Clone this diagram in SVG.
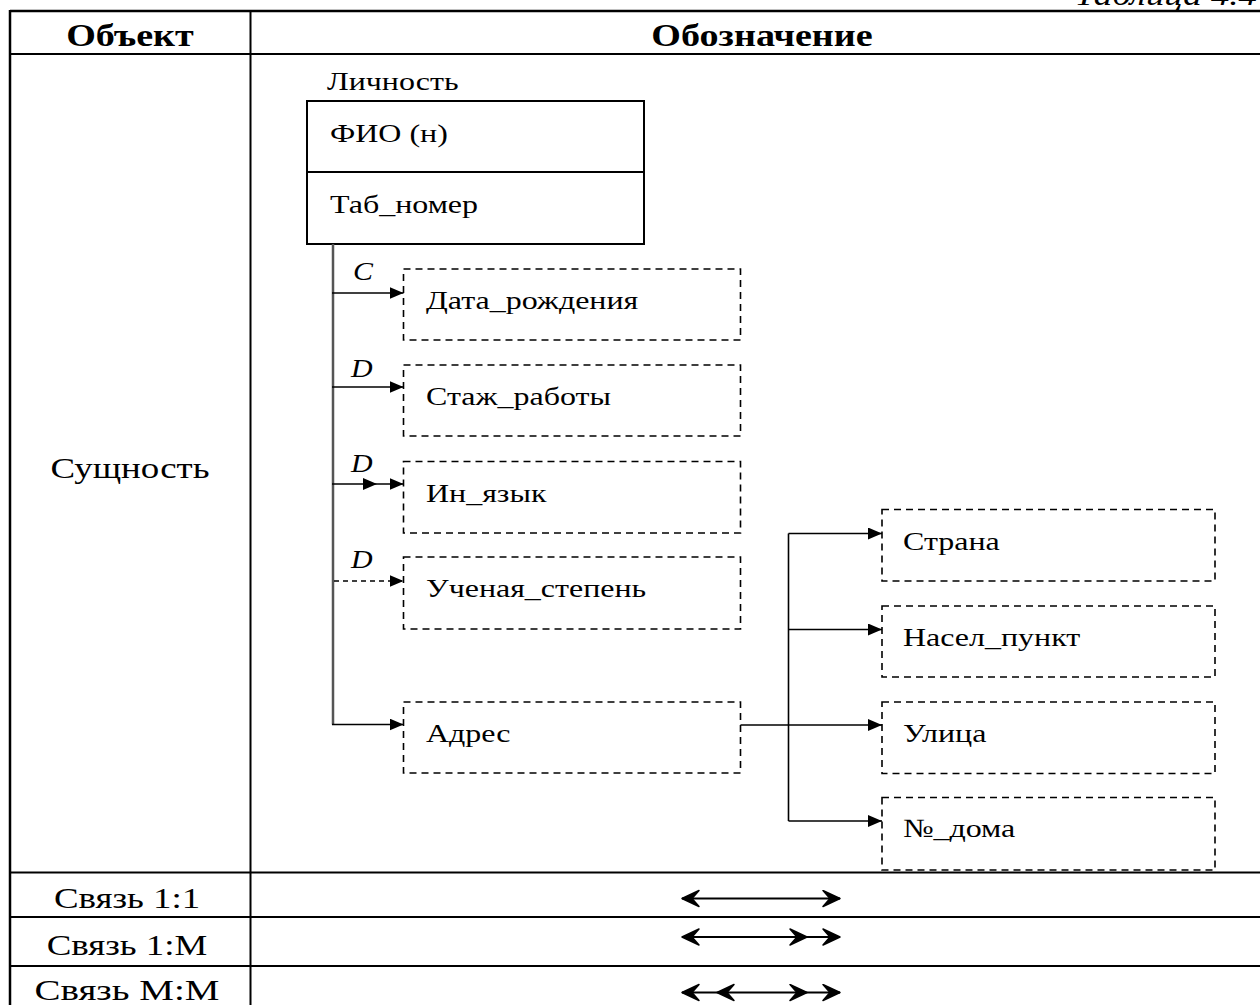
<svg xmlns="http://www.w3.org/2000/svg" width="1260" height="1005" viewBox="0 0 1260 1005">
  <style>
    .t { font-family: "Liberation Serif", "DejaVu Serif", serif; fill: #000; }
    .hdr { font-size: 31px; font-weight: bold; }
    .cell { font-size: 30px; }
    .lbl { font-size: 26px; }
    .tag { font-size: 26px; font-style: italic; }
    .grid { stroke: #000; stroke-width: 2; fill: none; }
    .entity { fill: #fff; stroke: #000; stroke-width: 2; }
    .attr { fill: #fff; stroke: #000; stroke-width: 1.6; stroke-dasharray: 7 5; }
    .trunk { stroke: #555; stroke-width: 2.5; fill: none; }
    .link { stroke: #000; stroke-width: 1.6; fill: none; }
    .rel { stroke: #000; stroke-width: 2.2; fill: none; }
  </style>
  <defs>
    <marker id="tri" markerUnits="userSpaceOnUse" markerWidth="15" markerHeight="13" refX="14" refY="6" orient="auto">
      <path d="M0,0 L14,6 L0,12 Z" fill="#000"/>
    </marker>
    <marker id="stealth" markerUnits="userSpaceOnUse" markerWidth="22" markerHeight="20" refX="19" refY="9" orient="auto">
      <path d="M19,9 L2,1 L9,9 L2,17 Z" fill="#000" stroke="#000" stroke-width="1.5" stroke-linejoin="round"/>
    </marker>
  </defs>

  <rect width="1260" height="1005" fill="#fff"/>

  <!-- table caption, cut by the page edge -->
  <g transform="translate(1257 5) scale(1.23 1)">
    <text class="t tag" text-anchor="end" style="font-size:30px">Таблица 4.4</text>
  </g>

  <!-- table grid -->
  <g id="table">
    <line class="grid" x1="10" y1="11" x2="1260" y2="11" style="stroke-width:2.5"/>
    <line class="grid" x1="10" y1="54" x2="1260" y2="54"/>
    <line class="grid" x1="10" y1="872.5" x2="1260" y2="872.5"/>
    <line class="grid" x1="10" y1="917" x2="1260" y2="917"/>
    <line class="grid" x1="10" y1="966" x2="1260" y2="966"/>
    <line class="grid" x1="10" y1="10" x2="10" y2="1005" style="stroke-width:2.5"/>
    <line class="grid" x1="250.5" y1="11" x2="250.5" y2="1005"/>
  </g>

  <!-- table text -->
  <g id="headers">
    <g transform="translate(130 46) scale(1.23 1)"><text class="t hdr" text-anchor="middle">Объект</text></g>
    <g transform="translate(762 46) scale(1.23 1)"><text class="t hdr" text-anchor="middle">Обозначение</text></g>
    <g transform="translate(130 478) scale(1.23 1)"><text class="t cell" text-anchor="middle">Сущность</text></g>
    <g transform="translate(127 908) scale(1.23 1)"><text class="t cell" text-anchor="middle">Связь 1:1</text></g>
    <g transform="translate(127 955) scale(1.23 1)"><text class="t cell" text-anchor="middle">Связь 1:M</text></g>
    <g transform="translate(127 1000) scale(1.3 1)"><text class="t cell" text-anchor="middle">Связь M:M</text></g>
  </g>

  <!-- entity Личность -->
  <g id="lichnost">
    <g transform="translate(327 90) scale(1.23 1)"><text class="t lbl">Личность</text></g>
    <rect class="entity" x="307" y="101" width="337" height="143"/>
    <line class="grid" x1="307" y1="172" x2="644" y2="172"/>
    <g transform="translate(330 142) scale(1.23 1)"><text class="t lbl">ФИО (н)</text></g>
    <g transform="translate(330 213) scale(1.23 1)"><text class="t lbl">Таб_номер</text></g>
  </g>

  <!-- attributes -->
  <g id="data-rozhdeniya">
    <rect class="attr" x="403.5" y="269" width="337" height="71"/>
    <g transform="translate(426 309) scale(1.23 1)"><text class="t lbl">Дата_рождения</text></g>
  </g>
  <g id="stazh-raboty">
    <rect class="attr" x="403.5" y="365" width="337" height="71"/>
    <g transform="translate(426 405) scale(1.23 1)"><text class="t lbl">Стаж_работы</text></g>
  </g>
  <g id="in-yazyk">
    <rect class="attr" x="403.5" y="461.5" width="337" height="71.5"/>
    <g transform="translate(426 501.5) scale(1.23 1)"><text class="t lbl">Ин_язык</text></g>
  </g>
  <g id="uchenaya-stepen">
    <rect class="attr" x="403.5" y="557" width="337" height="72"/>
    <g transform="translate(426 596.5) scale(1.23 1)"><text class="t lbl">Ученая_степень</text></g>
  </g>
  <g id="adres">
    <rect class="attr" x="403.5" y="702" width="337" height="71"/>
    <g transform="translate(426 741.5) scale(1.23 1)"><text class="t lbl">Адрес</text></g>
  </g>
  <g id="strana">
    <rect class="attr" x="882" y="509.5" width="333" height="71.5"/>
    <g transform="translate(903 550) scale(1.23 1)"><text class="t lbl">Страна</text></g>
  </g>
  <g id="nasel-punkt">
    <rect class="attr" x="882" y="606" width="333" height="71"/>
    <g transform="translate(903 645.5) scale(1.23 1)"><text class="t lbl">Насел_пункт</text></g>
  </g>
  <g id="ulitsa">
    <rect class="attr" x="882" y="702" width="333" height="71.5"/>
    <g transform="translate(903 741.5) scale(1.23 1)"><text class="t lbl">Улица</text></g>
  </g>
  <g id="nomer-doma">
    <rect class="attr" x="882" y="797.5" width="333" height="72.5"/>
    <g transform="translate(903 836.5) scale(1.23 1)"><text class="t lbl">№_дома</text></g>
  </g>

  <!-- relationship-type labels on the attribute links -->
  <g id="link-tags">
    <g transform="translate(353 280) scale(1.15 1)"><text class="t tag">C</text></g>
    <g transform="translate(351 377) scale(1.15 1)"><text class="t tag">D</text></g>
    <g transform="translate(351 472) scale(1.15 1)"><text class="t tag">D</text></g>
    <g transform="translate(351 568) scale(1.15 1)"><text class="t tag">D</text></g>
  </g>

  <!-- connectors -->
  <g id="connectors">
    <polyline class="trunk" points="333,244 333,724.5"/>
    <line class="link" x1="332" y1="293" x2="403.5" y2="293" marker-end="url(#tri)"/>
    <line class="link" x1="332" y1="387" x2="403.5" y2="387" marker-end="url(#tri)"/>
    <polyline class="link" points="332,484 377,484 403.5,484" marker-mid="url(#tri)" marker-end="url(#tri)"/>
    <line class="link" x1="334" y1="581" x2="403.5" y2="581" stroke-dasharray="5 4" marker-end="url(#tri)"/>
    <line class="link" x1="332" y1="724.5" x2="403.5" y2="724.5" marker-end="url(#tri)"/>

    <line class="link" x1="740.5" y1="725" x2="882" y2="725" marker-end="url(#tri)"/>
    <line class="link" x1="788.5" y1="533.5" x2="788.5" y2="821"/>
    <line class="link" x1="788.5" y1="533.5" x2="882" y2="533.5" marker-end="url(#tri)"/>
    <line class="link" x1="788.5" y1="629.5" x2="882" y2="629.5" marker-end="url(#tri)"/>
    <line class="link" x1="788.5" y1="821" x2="882" y2="821" marker-end="url(#tri)"/>

    <!-- notation for relationship types -->
    <line class="rel" x1="761" y1="898.5" x2="682" y2="898.5" marker-end="url(#stealth)"/>
    <line class="rel" x1="761" y1="898.5" x2="840" y2="898.5" marker-end="url(#stealth)"/>

    <line class="rel" x1="761" y1="937" x2="682" y2="937" marker-end="url(#stealth)"/>
    <polyline class="rel" points="761,937 807,937 840,937" marker-mid="url(#stealth)" marker-end="url(#stealth)"/>

    <polyline class="rel" points="761,992.5 717,992.5 682,992.5" marker-mid="url(#stealth)" marker-end="url(#stealth)"/>
    <polyline class="rel" points="761,992.5 807,992.5 840,992.5" marker-mid="url(#stealth)" marker-end="url(#stealth)"/>
  </g>
</svg>
